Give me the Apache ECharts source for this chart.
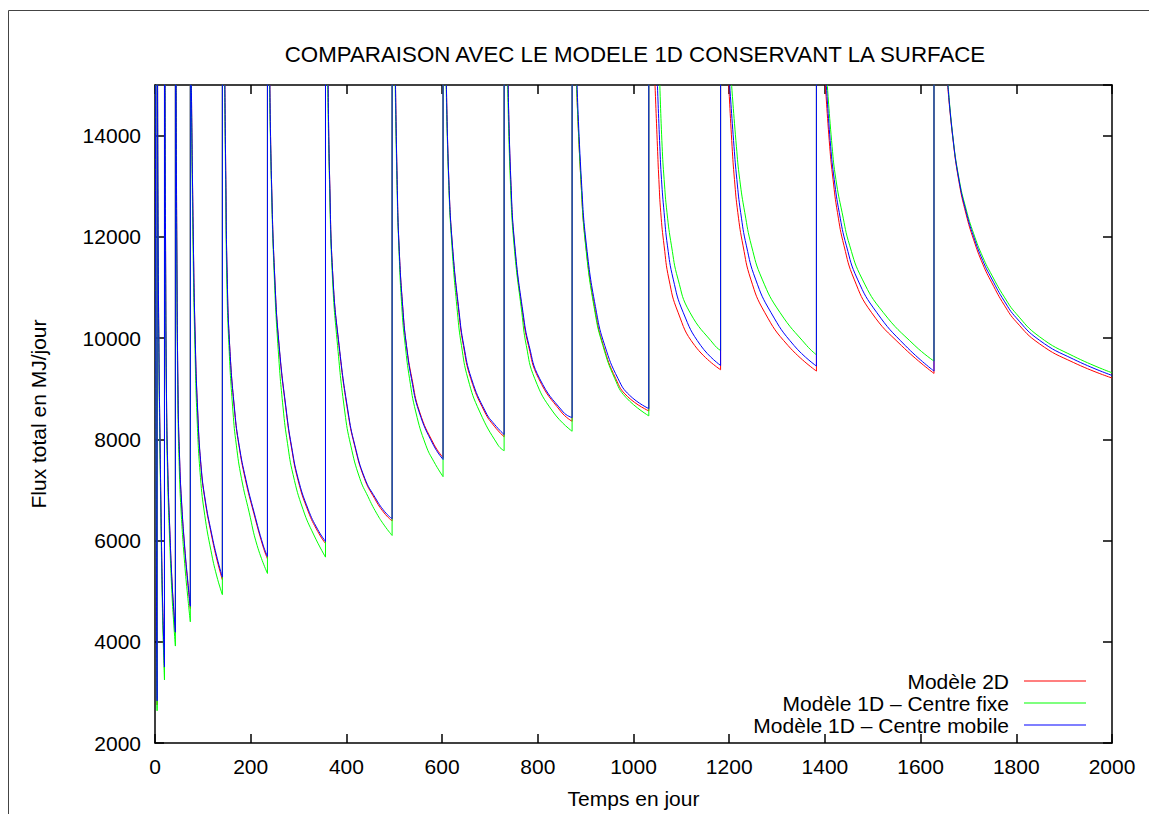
<!DOCTYPE html>
<html>
<head>
<meta charset="utf-8">
<script src="https://cdn.jsdelivr.net/npm/echarts@6/dist/echarts.min.js"></script>
<style>
html,body{margin:0;padding:0;background:#fff;}
#chart{width:1149px;height:814px;}
</style>
</head>
<body>
<div id="chart"></div>
<script>
// ---------- data ----------
const titleText = 'COMPARAISON AVEC LE MODELE 1D CONSERVANT LA SURFACE';
const xName = 'Temps en jour';
const yName = 'Flux total en MJ/jour';
const seriesNames = ['Modèle 2D', 'Modèle 1D – Centre fixe', 'Modèle 1D – Centre mobile'];
const seriesColors = ['#ff0000', '#00ff00', '#0000ff'];
const xTicks = [0, 200, 400, 600, 800, 1000, 1200, 1400, 1600, 1800, 2000];
const yTicks = [2000, 4000, 6000, 8000, 10000, 12000, 14000];
const yTop = 15000;
// value reached just after each jump (far above the visible range)
const jumpTop = 40000;

// Each model: list of decay segments [[t, flux], ...]; a vertical jump separates segments.
const model2D = [
  [[0.8,15000],[1.8,8950],[3,4950],[4.4,2750]],
  [[5.4,15000],[6.5,11980],[8.5,9480],[10.5,7980],[13,6280],[15.6,4880],[17.8,4080],[19.8,3480]],
  [[21,15000],[22,11980],[24,8880],[27,7280],[31,6170],[35.5,5170],[39.5,4570],[42.6,4170]],
  [[44.2,15000],[45.5,11980],[48.3,8770],[51.5,7570],[55.3,6770],[62.3,5810],[68.5,5160],[73.8,4656]],
  [[76,15000],[80,11980],[84,9980],[89,8570],[96,7470],[105,6770],[118,6110],[130,5600],[140.8,5226]],
  [[146,15000],[148,13134],[150.7,11250],[156,9852],[166.5,8540],[175.3,7884],[189,7200],[206.5,6540],[225.5,5890],[235,5640]],
  [[240,15000],[243.4,13134],[250.4,11165],[259.4,9830],[274.8,8510],[285,7850],[299,7190],[320,6580],[340,6180],[356.3,5940]],
  [[361.8,15000],[365,13134],[372,11165],[384.5,9852],[403,8540],[417,7884],[437.5,7228],[459,6830],[479,6545],[495.5,6387]],
  [[502.6,15000],[506,13134],[510,11822],[518.5,10510],[525.5,9852],[537,9197],[553,8540],[583,7900],[602,7640]],
  [[609,15000],[614,13134],[621.5,11822],[635,10510],[644.5,9852],[660,9197],[689,8540],[709,8260],[729.6,8049]],
  [[738,15000],[743.3,13134],[751.5,11822],[768,10510],[780.5,9852],[802,9197],[849,8540],[871.7,8356]],
  [[881,15000],[890,13134],[900.5,11822],[920.5,10510],[937,9852],[963,9197],[987,8850],[1032,8561]],
  [[1045,15000],[1050,13790],[1053,13134],[1057,12478],[1064,11822],[1074,11165],[1093,10510],[1128,9852],[1182,9374]],
  [[1199,15000],[1206,13790],[1211,13134],[1218,12478],[1229,11822],[1245,11165],[1274,10510],[1323,9852],[1382.3,9348]],
  [[1401,15000],[1410,13790],[1417,13134],[1426.3,12478],[1440,11822],[1461,11165],[1497,10510],[1560,9852],[1628,9301]],
  [[1656.5,15000],[1667,13980],[1680,13100],[1695,12450],[1711,11940],[1730,11460],[1749,11090],[1775,10650],[1800,10320],[1848,9890],[1920,9515],[2000,9211]]
];
const model1DFixe = [
  [[0.8,15000],[1.8,8800],[3,4800],[4.4,2636]],
  [[5.3,15000],[6.4,11800],[8.4,9300],[10.4,7750],[12.9,6050],[15.5,4650],[17.7,3850],[19.8,3246]],
  [[20.9,15000],[21.9,11800],[23.9,8700],[26.9,7050],[30.9,5950],[35.4,4950],[39.4,4330],[42.6,3915]],
  [[44,15000],[45.3,11800],[48,8600],[51,7350],[55,6500],[62,5550],[68.3,4900],[73.8,4394]],
  [[75.8,15000],[79.5,11800],[83.5,9800],[88,8400],[95,7250],[104,6500],[117,5800],[129,5300],[140.8,4931]],
  [[145.5,15000],[147.5,13134],[150,11165],[154.5,9852],[163,8540],[170,7884],[180.7,7228],[196.7,6560],[213.5,5900],[235,5350]],
  [[239.5,15000],[243,13134],[249.5,11165],[257.5,9770],[267.7,8620],[277,7915],[288.6,7300],[309.5,6610],[332,6110],[356.3,5672]],
  [[361,15000],[364.5,13134],[371,11165],[381.5,9852],[396.7,8540],[409,7884],[428,7228],[445,6870],[463,6540],[480,6290],[495.5,6100]],
  [[502,15000],[505.5,13134],[509.5,11822],[516.5,10510],[523,9852],[532,9197],[545,8540],[566,7884],[583,7556],[602,7262]],
  [[608.5,15000],[613.5,13134],[620.5,11822],[632,10510],[640.5,9852],[654,9197],[678.8,8540],[717,7884],[729.6,7774]],
  [[737,15000],[742.5,13134],[750.5,11822],[766.5,10510],[776,9852],[793.7,9197],[832,8540],[871.7,8159]],
  [[881,15000],[890,13134],[900,11822],[919.5,10510],[936,9852],[961,9197],[984,8830],[1032,8463]],
  [[1055,15000],[1059.8,13790],[1064,13134],[1070,12478],[1079.4,11822],[1093,11165],[1117.7,10510],[1170,9852],[1182,9754]],
  [[1205,15000],[1215,13790],[1222,13134],[1232.6,12478],[1246.6,11822],[1268.8,11165],[1305.8,10510],[1362,9852],[1382.3,9669]],
  [[1405,15000],[1415,13790],[1423,13134],[1436,12478],[1452,11822],[1478,11165],[1521.6,10510],[1588,9852],[1628,9545]],
  [[1657.5,15000],[1667,14020],[1680,13165],[1695,12550],[1711,12060],[1730,11600],[1749,11240],[1775,10810],[1800,10480],[1848,10030],[1920,9640],[2000,9315]]
];
const model1DMobile = [
  [[0.8,15000],[1.8,9000],[3,5000],[4.4,2833]],
  [[5.4,15000],[6.5,12000],[8.5,9500],[10.5,8000],[13,6300],[15.6,4900],[17.8,4100],[19.8,3502]],
  [[21,15000],[22,12000],[24,8900],[27,7300],[31,6200],[35.5,5200],[39.5,4600],[42.6,4191]],
  [[44.2,15000],[45.5,12000],[48.3,8800],[51.5,7600],[55.3,6800],[62.3,5850],[68.5,5200],[73.8,4702]],
  [[76,15000],[80,12000],[84,10000],[89,8600],[96,7500],[105,6800],[118,6150],[130,5650],[140.8,5278]],
  [[146,15000],[148,13134],[150.7,11300],[156,9852],[166.8,8540],[175.8,7884],[189.8,7210],[207,6560],[226,5910],[235,5686]],
  [[240,15000],[243.4,13134],[250.4,11165],[259.4,9852],[274.8,8540],[285,7884],[299,7228],[320,6620],[340,6220],[356.3,5981]],
  [[361.8,15000],[365,13134],[372,11165],[384.8,9852],[403.6,8540],[417.6,7884],[438.5,7228],[460,6850],[480,6571],[495.5,6430]],
  [[502.6,15000],[506,13134],[510,11822],[518.5,10510],[525.5,9852],[536,9197],[552,8540],[582,7884],[602,7602]],
  [[609,15000],[614,13134],[621.7,11822],[635.6,10510],[645.4,9852],[661.4,9197],[691,8540],[710,8290],[729.6,8094]],
  [[738,15000],[743.6,13134],[752,11822],[769,10510],[781.8,9852],[804,9197],[853,8540],[871.7,8429]],
  [[882,15000],[891,13134],[901.8,11822],[922.6,10510],[940,9852],[967.8,9197],[992,8868],[1032,8606]],
  [[1050,15000],[1055,13790],[1058.5,13134],[1064,12478],[1071,11822],[1083,11165],[1103.7,10510],[1140.6,9852],[1182,9459]],
  [[1201,15000],[1210,13790],[1216,13134],[1224,12478],[1236,11822],[1255,11165],[1287,10510],[1335.6,9852],[1382.3,9447]],
  [[1403,15000],[1412,13790],[1419.5,13134],[1430,12478],[1445,11822],[1468,11165],[1508,10510],[1568,9852],[1628,9348]],
  [[1657,15000],[1667,14000],[1680,13134],[1695,12500],[1711,12000],[1730,11530],[1749,11165],[1775,10730],[1800,10400],[1848,9960],[1920,9580],[2000,9262]]
];
const models = [model2D, model1DFixe, model1DMobile];

// ---------- chart ----------
const FONT = '"Liberation Sans", Arial, Helvetica, sans-serif';
const chart = echarts.init(document.getElementById('chart'), null, {renderer: 'svg'});

function buildSeries(name, color, segments) {
  const list = [];
  const common = {
    type: 'line', name: name, xAxisIndex: 0, yAxisIndex: 0,
    symbol: 'none', showSymbol: false, clip: true, silent: true,
    animation: false, color: color,
    lineStyle: {color: color, width: 1}
  };
  segments.forEach(function (seg) {
    list.push(Object.assign({}, common, {data: seg, smooth: 0.5}));
  });
  const jumps = [];
  segments.slice(0, -1).forEach(function (seg) {
    const last = seg[seg.length - 1];
    jumps.push([last[0], last[1]], [last[0], jumpTop], [last[0], '-']);
  });
  list.push(Object.assign({}, common, {data: jumps, smooth: false, connectNulls: false}));
  return list;
}

let series = [];
models.forEach(function (m, i) {
  series = series.concat(buildSeries(seriesNames[i], seriesColors[i], m));
});

const tickStyle = {show: true, inside: true, length: 9, lineStyle: {color: '#000', width: 1.5}};
const lineStyle = {show: true, onZero: false, lineStyle: {color: '#000', width: 1.5}};
const xMin = xTicks[0], xMax = xTicks[xTicks.length - 1], xInt = xTicks[1] - xTicks[0];
const yMin = yTicks[0], yInt = yTicks[1] - yTicks[0];

const option = {
  animation: false,
  backgroundColor: '#fff',
  grid: {left: 155, right: 37, top: 85, bottom: 69, containLabel: false},
  graphic: [
    {type: 'rect', shape: {x: 8.5, y: 10.5, width: 1200, height: 900},
     style: {fill: 'none', stroke: '#444', lineWidth: 1}, silent: true},
    {type: 'text', x: 635, y: 54, silent: true,
     style: {text: titleText, font: '22.3px ' + FONT, fill: '#000',
             align: 'center', verticalAlign: 'middle', textAlign: 'center', textVerticalAlign: 'middle'}}
  ],
  legend: {
    data: seriesNames, orient: 'vertical', right: 63, top: 670, align: 'right',
    padding: 0, icon: 'rect',
    itemWidth: 62, itemHeight: 1, itemGap: 0, selectedMode: false,
    textStyle: {fontSize: 21, fontFamily: FONT, color: '#000', lineHeight: 22, padding: [0, 10, 0, 0]}
  },
  xAxis: [
    {type: 'value', position: 'bottom', min: xMin, max: xMax, interval: xInt,
     axisLine: lineStyle, axisTick: tickStyle, splitLine: {show: false},
     axisLabel: {show: true, margin: 13, fontSize: 21, fontFamily: FONT, color: '#000',
                 formatter: function (v) { return String(v); }},
     name: xName, nameLocation: 'middle', nameGap: 45,
     nameTextStyle: {fontSize: 21, fontFamily: FONT, color: '#000'}},
    {type: 'value', position: 'top', min: xMin, max: xMax, interval: xInt,
     axisLine: lineStyle, axisTick: tickStyle, splitLine: {show: false}, axisLabel: {show: false}}
  ],
  yAxis: [
    {type: 'value', position: 'left', min: yMin, max: yTop, interval: yInt,
     axisLine: lineStyle, axisTick: tickStyle, splitLine: {show: false},
     axisLabel: {show: true, showMaxLabel: false, margin: 14, fontSize: 21, fontFamily: FONT, color: '#000',
                 formatter: function (v) { return String(v); }},
     name: yName, nameLocation: 'middle', nameGap: 106, nameRotate: 90,
     nameTextStyle: {fontSize: 21, fontFamily: FONT, color: '#000'}},
    {type: 'value', position: 'right', min: yMin, max: yTop, interval: yInt,
     axisLine: lineStyle, axisTick: tickStyle, splitLine: {show: false}, axisLabel: {show: false}}
  ],
  series: series
};
chart.setOption(option);
</script>
</body>
</html>
